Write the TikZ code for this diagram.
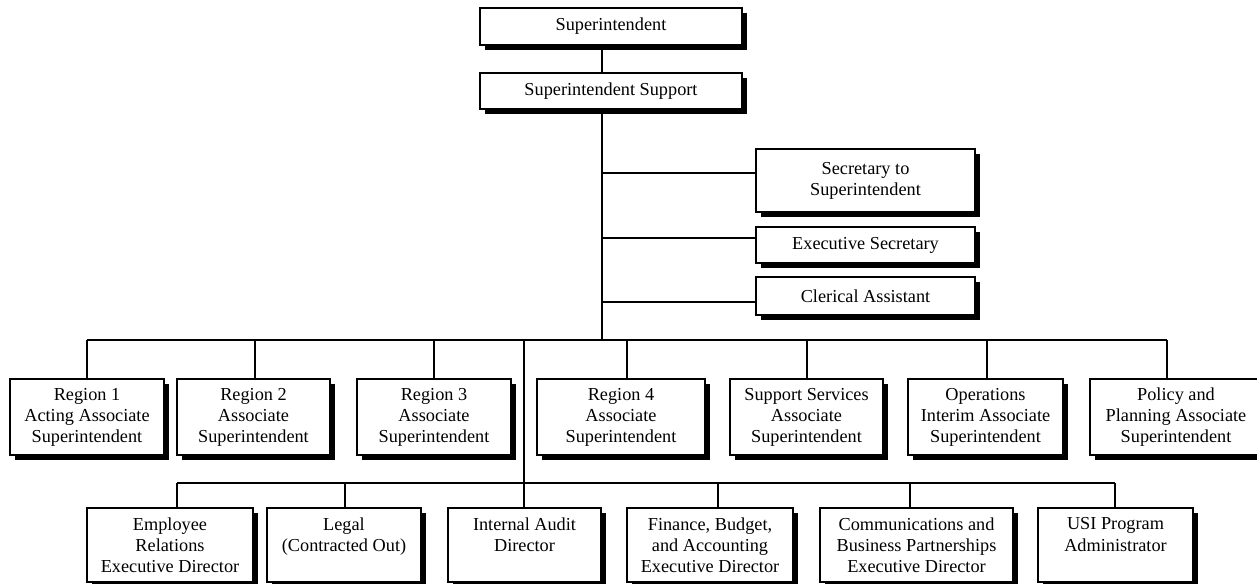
\documentclass[tikz,border=0pt]{standalone}
\usepackage{fontspec}
\setmainfont{Liberation Serif}
\usetikzlibrary{shadows}

% boxes given by their corners in the picture's own grid (x right, y down)
\newcommand{\orgbox}[6]{%
  \node[orgbox, minimum width={(#4-#2)*0.02cm}, minimum height={(#5-#3)*0.02cm}]
    (#1) at ({(#2+#4)/2},{(#3+#5)/2}) {#6};}

\tikzset{
  orgbox/.style={draw=black, line width=0.6pt, fill=white, inner sep=0pt,
    align=center, font=\fontsize{10.4}{12}\selectfont,
    general shadow={fill=black, shadow xshift=2.6pt, shadow yshift=-2.6pt}},
  link/.style={draw=black, line width=0.6pt}
}

\begin{document}
\begin{tikzpicture}[x=0.02cm, y=-0.02cm]
\useasboundingbox (0,0) rectangle (1257,584);
\fill[white] (0,0) rectangle (1257,584);
\clip (0,0) rectangle (1257,584);

% top of the chart
\orgbox{sup}{480}{8}{742}{45}{Superintendent}
\orgbox{supp}{480}{73}{742}{109}{Superintendent Support}

% staff boxes to the right of the trunk
\orgbox{sec}{756}{149}{975}{212}{Secretary to\\Superintendent}
\orgbox{exec}{756}{227}{975}{263}{Executive Secretary}
\orgbox{cler}{756}{277}{975}{315}{Clerical Assistant}

% associate superintendents
\orgbox{rone}{10}{379}{164}{455}{Region 1\\Acting Associate\\Superintendent}
\orgbox{rtwo}{177}{379}{330}{455}{Region 2\\Associate\\Superintendent}
\orgbox{rthree}{357}{379}{511}{455}{Region 3\\Associate\\Superintendent}
\orgbox{rfour}{537}{379}{705}{455}{Region 4\\Associate\\Superintendent}
\orgbox{supserv}{730}{379}{883}{455}{Support Services\\Associate\\Superintendent}
\orgbox{ops}{908}{379}{1063}{455}{Operations\\Interim Associate\\Superintendent}
\orgbox{pol}{1090}{379}{1262}{455}{Policy and\\Planning Associate\\Superintendent}

% directors
\orgbox{emp}{87}{508}{253}{582}{Employee\\Relations\\Executive Director}
\orgbox{legal}{267}{508}{421}{582}{Legal\\(Contracted Out)\\~}
\orgbox{audit}{448}{508}{601}{582}{Internal Audit\\Director\\~}
\orgbox{fin}{627}{508}{793}{582}{Finance, Budget,\\and Accounting\\Executive Director}
\orgbox{comm}{820}{508}{1013}{582}{Communications and\\Business Partnerships\\Executive Director}
\orgbox{usi}{1038}{508}{1193}{582}{USI Program\\Administrator\\~}

% trunk and junction points
\coordinate (trunk) at (602,340);
\coordinate (s1) at (602,173);
\coordinate (s2) at (602,238);
\coordinate (s3) at (602,302);

\coordinate (a1) at (87,340);
\coordinate (a2) at (255,340);
\coordinate (a3) at (434,340);
\coordinate (a4) at (627,340);
\coordinate (a5) at (807,340);
\coordinate (a6) at (987,340);
\coordinate (a7) at (1167,340);
\coordinate (split) at (524,340);

\coordinate (d1) at (177,483);
\coordinate (d2) at (345,483);
\coordinate (d4) at (718,483);
\coordinate (d5) at (910,483);
\coordinate (d6) at (1115,483);

% trunk and staff branches
\path[link] (sup.south -| trunk) -- (supp.north -| trunk);
\path[link] (supp.south -| trunk) -- (trunk);
\path[link] (s1) -- (s1 -| sec.west);
\path[link] (s2) -- (s2 -| exec.west);
\path[link] (s3) -- (s3 -| cler.west);

% bus to the associate superintendents
\path[link] (a1) -- (a7);
\path[link] (a1) -- (a1 |- rone.north);
\path[link] (a2) -- (a2 |- rtwo.north);
\path[link] (a3) -- (a3 |- rthree.north);
\path[link] (a4) -- (a4 |- rfour.north);
\path[link] (a5) -- (a5 |- supserv.north);
\path[link] (a6) -- (a6 |- ops.north);
\path[link] (a7) -- (a7 |- pol.north);

% bus to the directors
\path[link] (split) -- (split |- audit.north);
\path[link] (d1) -- (d6);
\path[link] (d1) -- (d1 |- emp.north);
\path[link] (d2) -- (d2 |- legal.north);
\path[link] (d4) -- (d4 |- fin.north);
\path[link] (d5) -- (d5 |- comm.north);
\path[link] (d6) -- (d6 |- usi.north);
\end{tikzpicture}
\end{document}
